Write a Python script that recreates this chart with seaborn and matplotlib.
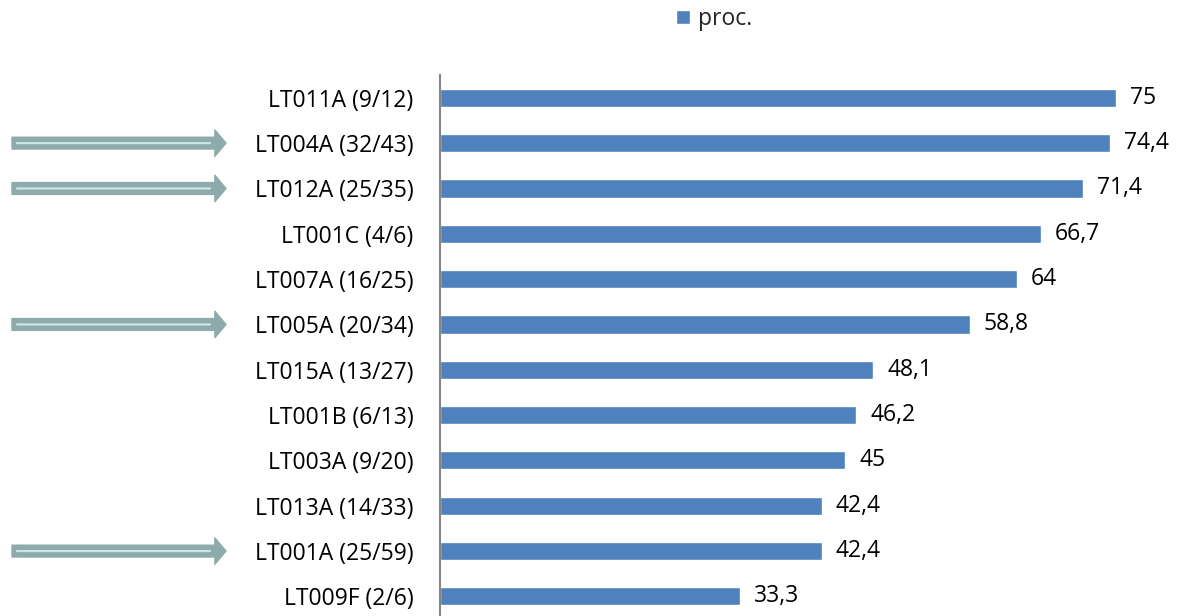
import matplotlib
matplotlib.use("Agg")
import matplotlib.pyplot as plt
import seaborn as sns
import pandas as pd

labels = ["LT011A (9/12)", "LT004A (32/43)", "LT012A (25/35)", "LT001C (4/6)",
          "LT007A (16/25)", "LT005A (20/34)", "LT015A (13/27)", "LT001B (6/13)",
          "LT003A (9/20)", "LT013A (14/33)", "LT001A (25/59)", "LT009F (2/6)"]
values = [75, 74.4, 71.4, 66.7, 64, 58.8, 48.1, 46.2, 45, 42.4, 42.4, 33.3]
marked = ["LT004A (32/43)", "LT012A (25/35)", "LT005A (20/34)", "LT001A (25/59)"]

sns.set_style("white")
plt.rcParams["font.family"] = ["Open Sans", "DejaVu Sans"]

df = pd.DataFrame({"label": labels, "proc.": values})

fig = plt.figure(figsize=(11.78, 6.16), dpi=100)
ax = fig.add_axes([440 / 1178, -0.005, 738 / 1178, 0.883])
sns.barplot(data=df, x="proc.", y="label", color="#4F81BD", width=0.4,
            saturation=1, label="proc.", ax=ax)

ax.set_xlim(0, 81.9)
ax.set_ylim(len(labels) - 0.5, -0.5)
ax.set_xlabel("")
ax.set_ylabel("")
ax.set_xticks([])
ax.tick_params(axis="y", length=0, pad=19, labelsize=16.5, labelcolor="#000000")
for side in ["top", "right", "bottom"]:
    ax.spines[side].set_visible(False)
ax.spines["left"].set_color("#868686")
ax.spines["left"].set_linewidth(1.5)

ax.bar_label(ax.containers[0], labels=[f"{v:g}".replace(".", ",") for v in values],
             padding=10, fontsize=16.5, color="#000000")

# arrows pointing at selected rows
for name in marked:
    y = labels.index(name)
    ax.annotate("", xy=(226 / 1178, y), xycoords=("figure fraction", "data"),
                xytext=(12 / 1178, y), textcoords=("figure fraction", "data"),
                arrowprops=dict(arrowstyle="simple,head_length=0.8,head_width=1.9,tail_width=0.85",
                                fc="#8EAAAA", ec="#8EAAAA", shrinkA=0, shrinkB=0,
                                mutation_scale=10))
    ax.annotate("", xy=(210 / 1178, y), xycoords=("figure fraction", "data"),
                xytext=(17 / 1178, y), textcoords=("figure fraction", "data"),
                arrowprops=dict(arrowstyle="-", color="#C8E6E6", lw=1.6,
                                shrinkA=0, shrinkB=0))

ax.legend(loc="center", bbox_to_anchor=(714 / 1178, 1 - 19 / 616),
          bbox_transform=fig.transFigure, frameon=False, fontsize=16.5,
          handlelength=0.6, handleheight=0.6, handletextpad=0.35)

fig.savefig("out.png", dpi=100)
